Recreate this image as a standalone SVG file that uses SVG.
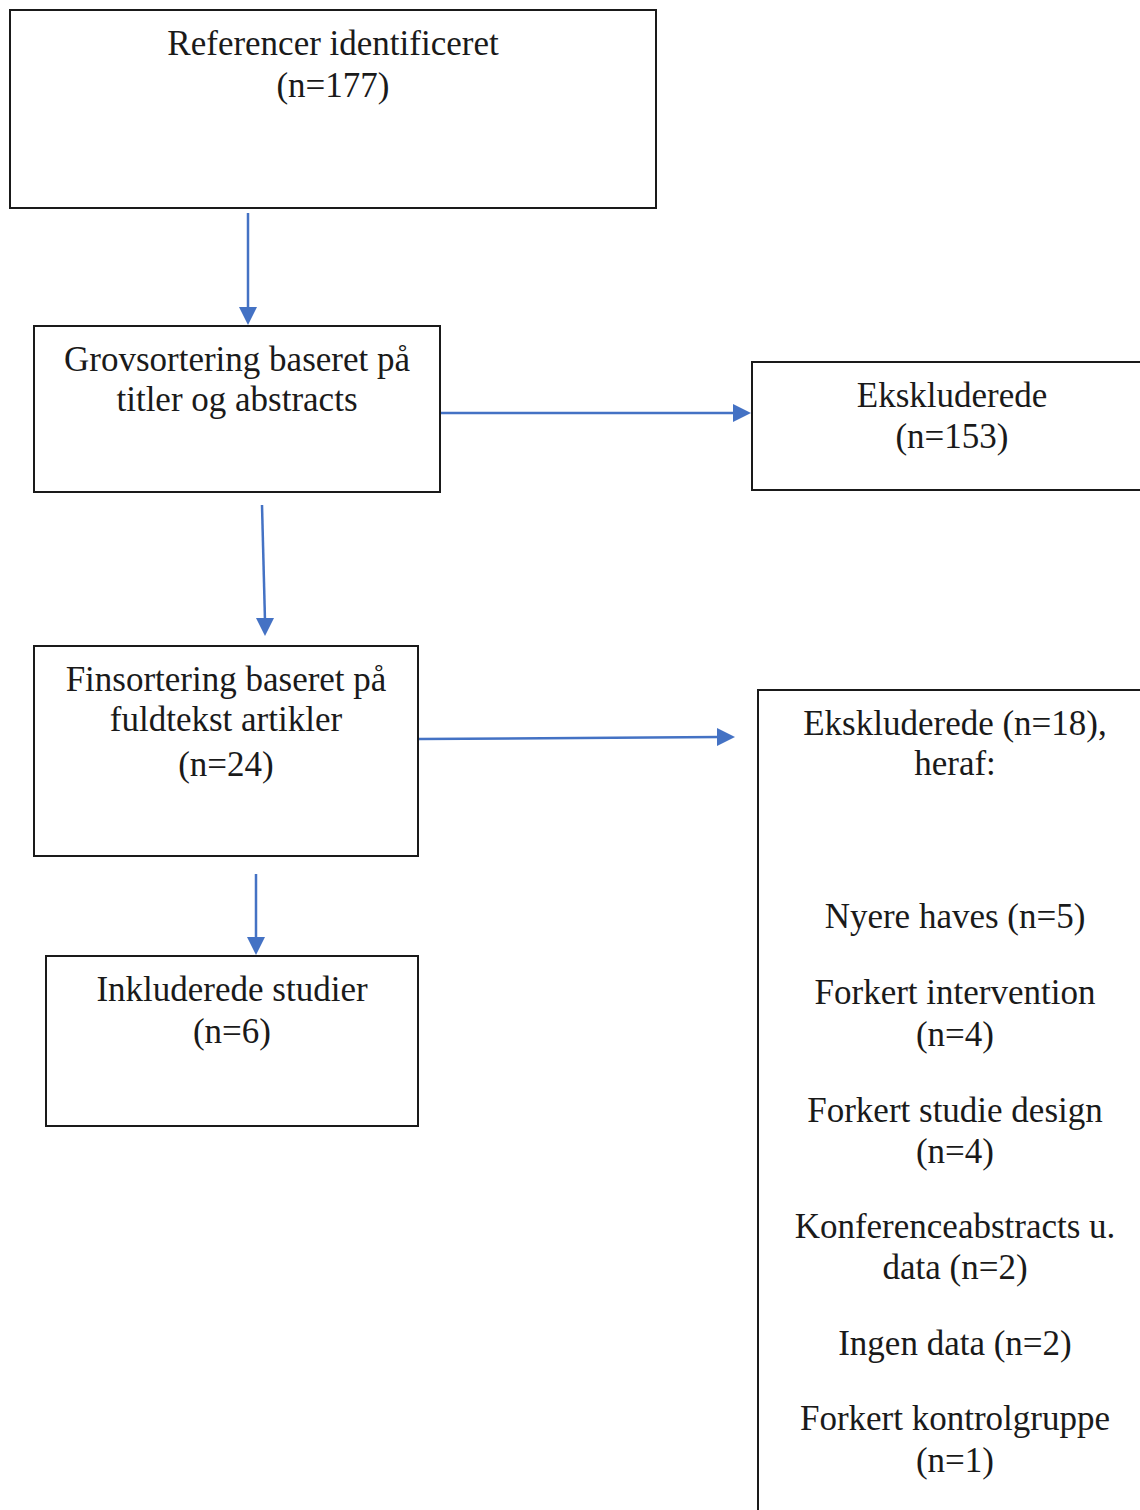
<svg xmlns="http://www.w3.org/2000/svg" width="1140" height="1510" viewBox="0 0 1140 1510">
<defs>
<style>
.box{fill:#fff;stroke:#1a1a1a;stroke-width:2}
.t{font-family:"Liberation Serif","Times New Roman",serif;font-size:35px;fill:#1a1a1a;text-anchor:middle}
.c{stroke:#4472C4;stroke-width:2.5;fill:none}
</style>
</defs>
<rect width="1140" height="1510" fill="#fff"/>
<g id="connectors">
<line class="c" x1="248" y1="213" x2="248" y2="310"/>
<line class="c" x1="262" y1="505" x2="265" y2="621"/>
<line class="c" x1="441" y1="413" x2="736" y2="413"/>
<line class="c" x1="419" y1="739" x2="720" y2="737"/>
<line class="c" x1="256" y1="874" x2="256" y2="940"/>
<g id="arrowheads" fill="#4472C4">
<path d="M239,307 L257,307 L248,325 Z"/>
<path d="M256,618 L274,618 L265,636 Z"/>
<path d="M733,404 L733,422 L751,413 Z"/>
<path d="M717,728 L717,746 L735,737 Z"/>
<path d="M247,937 L265,937 L256,955 Z"/>
</g>
</g>
<g id="n1"><rect class="box" x="10" y="10" width="646" height="198"/>
<text class="t" x="333" y="55">Referencer identificeret</text>
<text class="t" x="333" y="97">(n=177)</text></g>
<g id="n2"><rect class="box" x="34" y="326" width="406" height="166"/>
<text class="t" x="237" y="371">Grovsortering baseret på</text>
<text class="t" x="237" y="411">titler og abstracts</text></g>
<g id="n3"><rect class="box" x="752" y="362" width="400" height="128"/>
<text class="t" x="952" y="407">Ekskluderede</text>
<text class="t" x="952" y="448">(n=153)</text></g>
<g id="n4"><rect class="box" x="34" y="646" width="384" height="210"/>
<text class="t" x="226" y="691">Finsortering baseret på</text>
<text class="t" x="226" y="731">fuldtekst artikler</text>
<text class="t" x="226" y="776">(n=24)</text></g>
<g id="n5"><rect class="box" x="758" y="690" width="400" height="840"/>
<text class="t" x="955" y="735">Ekskluderede (n=18),</text>
<text class="t" x="955" y="775">heraf:</text>
<text class="t" x="955" y="928">Nyere haves (n=5)</text>
<text class="t" x="955" y="1004">Forkert intervention</text>
<text class="t" x="955" y="1046">(n=4)</text>
<text class="t" x="955" y="1122">Forkert studie design</text>
<text class="t" x="955" y="1163">(n=4)</text>
<text class="t" x="955" y="1238">Konferenceabstracts u.</text>
<text class="t" x="955" y="1279">data (n=2)</text>
<text class="t" x="955" y="1355">Ingen data (n=2)</text>
<text class="t" x="955" y="1430">Forkert kontrolgruppe</text>
<text class="t" x="955" y="1472">(n=1)</text></g>
<g id="n6"><rect class="box" x="46" y="956" width="372" height="170"/>
<text class="t" x="232" y="1001">Inkluderede studier</text>
<text class="t" x="232" y="1043">(n=6)</text></g>
</svg>
